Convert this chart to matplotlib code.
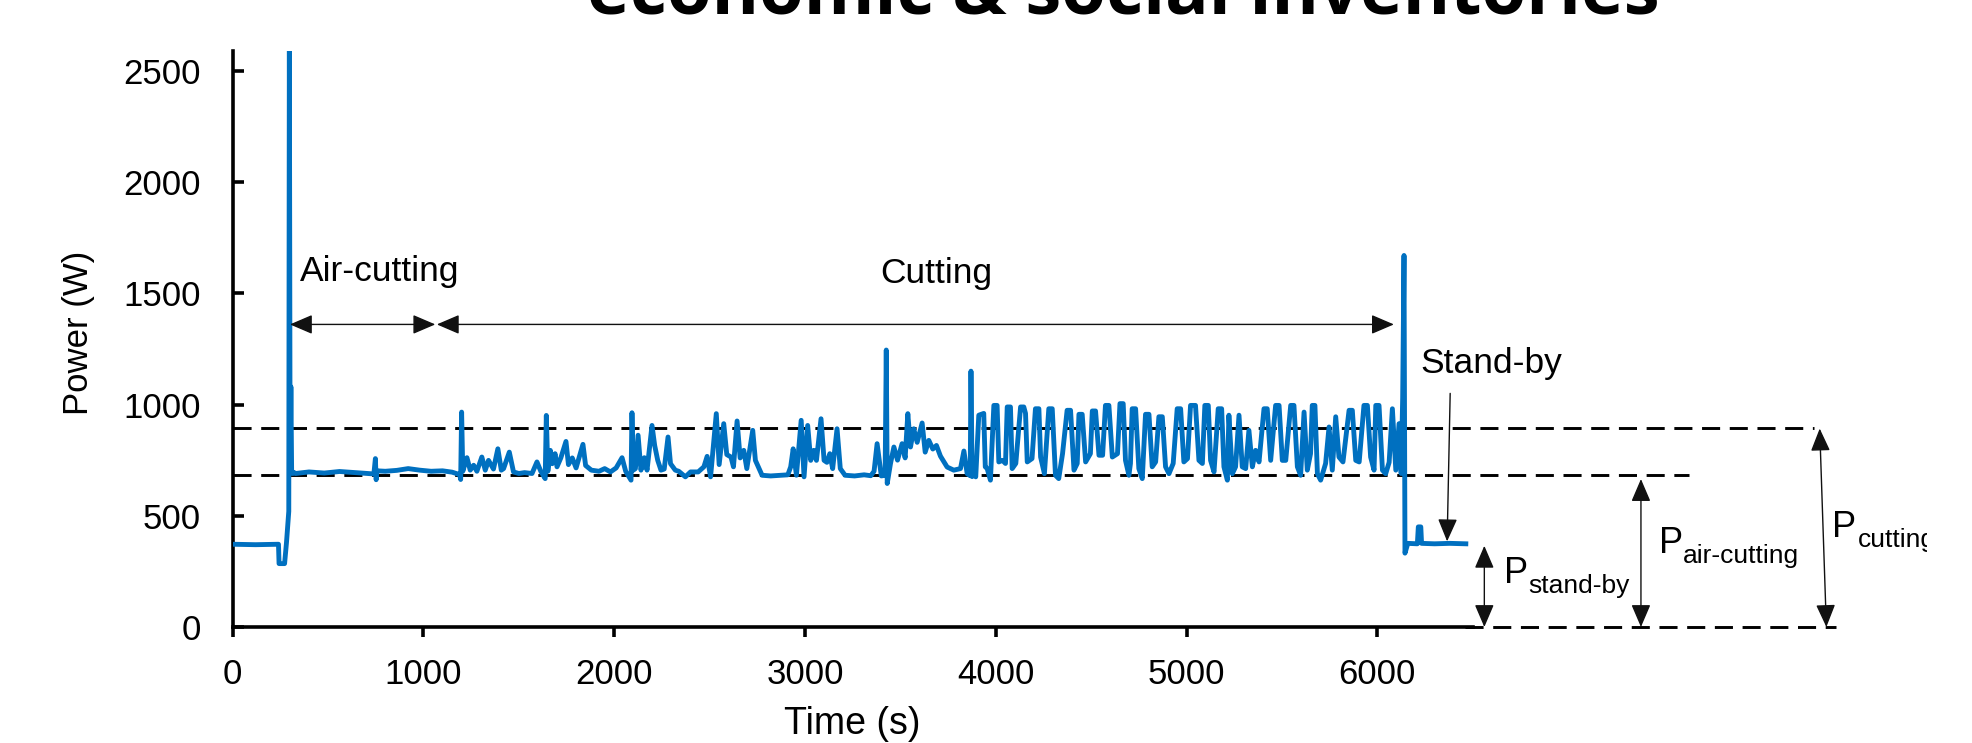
import matplotlib
matplotlib.use("Agg")
import matplotlib.pyplot as plt
from matplotlib.transforms import Bbox

plt.rcParams['font.family'] = ['Liberation Sans', 'DejaVu Sans']

# power trace (time in s, power in W)
standby_start_t = [0, 120, 240, 243, 272, 282, 288, 294, 297, 301, 305, 309, 314, 320]
standby_start_p = [372, 370, 372, 285, 285, 380, 450, 520, 2650, 700, 1080, 700, 690, 695]

air_cutting_t = [330, 400, 480, 560, 640, 700, 740, 748, 752, 756, 800, 860, 920, 980, 1040, 1100, 1150, 1190]
air_cutting_p = [690, 697, 692, 699, 694, 690, 688, 757, 662, 702, 700, 704, 712, 705, 700, 702, 696, 685]

cutting_t = [1195, 1200, 1206, 1228, 1245, 1263, 1280, 1306, 1324, 1341, 1367, 1390, 1408, 1420, 1450, 1472,
             1500, 1530, 1569, 1595, 1615, 1638, 1644, 1652, 1665, 1675, 1690, 1700, 1720, 1747, 1760, 1780,
             1800, 1836, 1850, 1880, 1920, 1950, 1980, 2010, 2041, 2060, 2088, 2093, 2100, 2111, 2125, 2140,
             2158, 2172, 2198, 2212, 2228, 2245, 2262, 2282, 2295, 2320, 2338, 2373, 2400, 2440, 2470, 2487,
             2505, 2535, 2550, 2574, 2590, 2612, 2625, 2644, 2660, 2679, 2695, 2726, 2740, 2775, 2820, 2870,
             2910, 2925, 2938, 2955, 2980, 2995, 3014, 3030, 3046, 3060, 3084, 3100, 3115, 3130, 3145, 3168,
             3185, 3210, 3260, 3310, 3345, 3362, 3378, 3400, 3420, 3426, 3431, 3448, 3466, 3485, 3509, 3525,
             3539, 3553, 3570, 3588, 3614, 3630, 3649, 3670, 3689, 3710, 3745, 3780, 3815, 3833, 3850, 3866,
             3870, 3876, 3885, 3895, 3911, 3937, 3945, 3955, 3972, 3990, 4007, 4016, 4035, 4051, 4060, 4077,
             4086, 4105, 4130, 4147, 4156, 4165, 4190, 4208, 4226, 4235, 4255, 4278, 4296, 4313, 4330, 4350,
             4374, 4392, 4410, 4427, 4436, 4453, 4471, 4496, 4506, 4523, 4541, 4560, 4575, 4593, 4611, 4638,
             4651, 4668, 4680, 4698, 4706, 4715, 4733, 4750, 4768, 4785, 4803, 4820, 4838, 4855, 4873, 4890,
             4908, 4930, 4951, 4969, 4986, 5005, 5021, 5047, 5065, 5083, 5096, 5114, 5126, 5144, 5166, 5184,
             5196, 5214, 5222, 5240, 5257, 5275, 5292, 5310, 5327, 5345, 5362, 5380, 5406, 5423, 5441, 5467,
             5485, 5502, 5520, 5546, 5563, 5581, 5598, 5616, 5633, 5650, 5659, 5673, 5686, 5703, 5729, 5747,
             5764, 5782, 5799, 5820, 5852, 5869, 5887, 5905, 5930, 5948, 5965, 5983, 5992, 6009, 6027, 6044,
             6062, 6079, 6097, 6114, 6125, 6133, 6140]
cutting_p = [663, 966, 700, 761, 705, 727, 700, 764, 705, 749, 710, 801, 705, 712, 786, 697,
             690, 694, 690, 742, 700, 667, 951, 700, 794, 734, 779, 720, 760, 834, 730, 760,
             715, 821, 726, 705, 700, 712, 697, 715, 761, 700, 660, 963, 705, 712, 862, 705,
             761, 705, 906, 816, 749, 705, 710, 854, 734, 705, 700, 675, 697, 697, 720, 767,
             675, 959, 730, 914, 775, 764, 720, 926, 760, 794, 712, 884, 749, 682, 679, 682,
             684, 720, 801, 682, 929, 675, 906, 749, 794, 749, 936, 749, 740, 779, 712, 891,
             712, 682, 679, 684, 680, 700, 824, 679, 682, 1245, 645, 734, 809, 750, 824, 760,
             959, 809, 891, 830, 917, 786, 839, 800, 816, 768, 719, 705, 712, 791, 689, 680,
             1150, 676, 705, 675, 952, 960, 720, 712, 660, 996, 996, 742, 749, 735, 989, 989,
             712, 735, 989, 989, 960, 742, 757, 981, 981, 764, 689, 981, 981, 682, 667, 779,
             974, 974, 705, 735, 956, 956, 742, 779, 971, 971, 772, 772, 996, 996, 764, 779,
             1004, 1004, 749, 682, 735, 981, 981, 712, 667, 956, 956, 720, 742, 945, 945, 720,
             689, 735, 981, 981, 742, 757, 996, 996, 749, 735, 996, 996, 749, 697, 981, 981,
             720, 660, 952, 689, 720, 952, 720, 712, 884, 720, 794, 742, 981, 981, 749, 996,
             996, 749, 749, 996, 996, 720, 682, 966, 705, 779, 996, 996, 689, 660, 735, 899,
             705, 945, 764, 742, 974, 974, 749, 742, 996, 996, 764, 705, 996, 996, 705, 689,
             740, 981, 705, 914, 690, 1030, 1670]

standby_end_t = [6145, 6160, 6210, 6215, 6228, 6232, 6300, 6380, 6464]
standby_end_p = [332, 376, 374, 450, 450, 376, 374, 376, 374]

# reference levels (W)
level_air_cutting = 682
level_cutting = 896

time_s = standby_start_t + air_cutting_t + cutting_t + standby_end_t
power_w = standby_start_p + air_cutting_p + cutting_p + standby_end_p

fig = plt.figure(figsize=(19.72, 7.43), dpi=100)
ax = fig.add_axes([0.118, 0.1561, 0.6288, 0.7756])

ax.plot(time_s, power_w, color='#0070C0', lw=3.5, zorder=3)

ax.set_xlim(0, 6500)
ax.set_ylim(0, 2590)
ax.set_xticks(range(0, 7000, 1000))
ax.set_yticks(range(0, 3000, 500))
for side in ['top', 'right']:
    ax.spines[side].set_visible(False)
for side in ['left', 'bottom']:
    ax.spines[side].set_linewidth(2.6)
ax.tick_params(axis='y', direction='in', length=8, width=2.6, pad=23, labelsize=25)
ax.tick_params(axis='x', direction='out', length=7, width=2.6, pad=15, labelsize=25)

ax.set_xlabel('Time (s)', fontsize=27, va='center')
ax.xaxis.set_label_coords(0.5, -0.168)
ax.set_ylabel('Power (W)', fontsize=25, va='center')
ax.yaxis.set_label_coords(-0.1247, 0.51)

# dashed reference lines running past the axes
dash = dict(color='black', lw=2.1, ls=(0, (6.2, 3.3)), clip_on=False, zorder=2)
ax.plot([0, 8290], [level_cutting, level_cutting], **dash)
ax.plot([0, 7632], [level_air_cutting, level_air_cutting], **dash)
ax.plot([6460, 8405], [0, 0], **dash)

# phase arrows
harrow = dict(arrowstyle='<|-|>,head_length=0.7,head_width=0.3', color='#111111', lw=1.0,
              shrinkA=0, shrinkB=0, mutation_scale=20)
ax.annotate('', xy=(300, 1360), xytext=(1062, 1360), arrowprops=harrow, annotation_clip=False)
ax.annotate('', xy=(1070, 1360), xytext=(6087, 1360), arrowprops=harrow, annotation_clip=False)
ax.text(350, 1557, 'Air-cutting', fontsize=25.5, va='baseline', ha='left')
ax.text(3686, 1545, 'Cutting', fontsize=25.5, va='baseline', ha='center')

ax.text(6225, 1143, 'Stand-by', fontsize=25.5, va='baseline', ha='left')
ax.annotate('', xy=(6366, 385), xytext=(6382, 1050),
            arrowprops=dict(arrowstyle='-|>,head_length=0.7,head_width=0.3', color='#111111', lw=1.0,
                            shrinkA=0, shrinkB=0, mutation_scale=20), annotation_clip=False)

# power level arrows
ax.annotate('', xy=(6561, 0), xytext=(6561, 365), arrowprops=harrow, annotation_clip=False)
ax.annotate('', xy=(7382, 0), xytext=(7382, 665), arrowprops=harrow, annotation_clip=False)
ax.annotate('', xy=(8354, 0), xytext=(8319, 892), arrowprops=harrow, annotation_clip=False)

# the source image is cropped just before the end of the last label
crop = Bbox.from_extents(0, 0, 1927, 743)
labels = [(6662, 197, 'P', 26), (6791, 151, 'stand-by', 19),
          (7475, 331, 'P', 26), (7604, 286, 'air-cutting', 19),
          (8386, 405, 'P', 26), (8518, 360, 'cutting', 19)]
for x, y, s, size in labels:
    t = ax.text(x, y, s, fontsize=size, va='baseline')
    t.set_clip_box(crop)
    t.set_clip_on(True)

fig.text(0.5697, 1 - 14 / 743, 'economic & social inventories', ha='center', va='baseline',
         fontsize=52, fontweight='bold', family=['Open Sans', 'DejaVu Sans'])

fig.savefig('out.png', dpi=100)
